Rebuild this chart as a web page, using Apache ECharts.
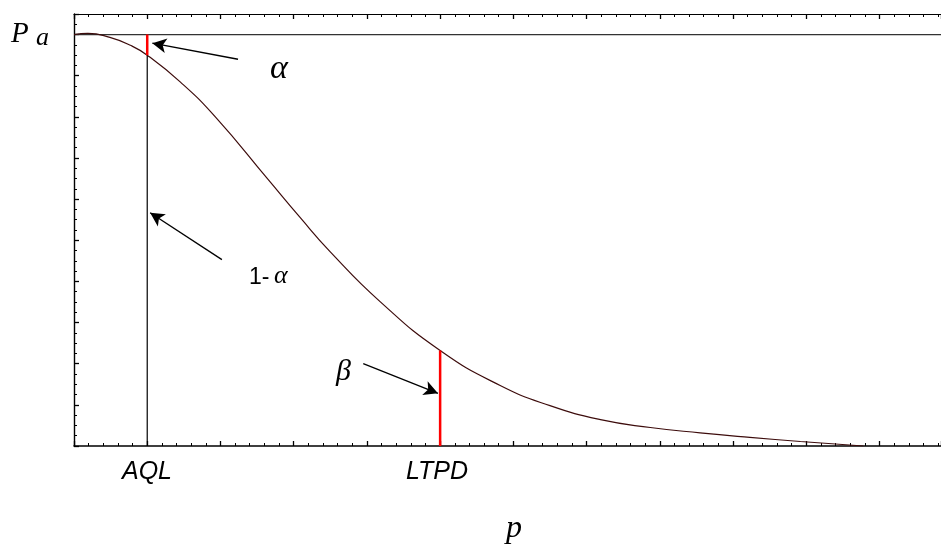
<!DOCTYPE html>
<html>
<head>
<meta charset="utf-8">
<title>OC curve</title>
<script src="https://cdn.jsdelivr.net/npm/echarts@6/dist/echarts.min.js"></script>
<style>
  html, body { margin: 0; padding: 0; background: #fff; }
  #chart { width: 941px; height: 544px; }
</style>
</head>
<body>
<div id="chart"></div>
<script>
// OC curve, p measured in axis steps (AQL = 1, LTPD = 5)
var curveP  = [0, 0.19, 0.49, 0.77, 1, 1.45, 1.93, 2.65, 3.09, 3.5, 4.18, 5, 5.82, 6.5, 7.19, 7.87, 8.55, 9.23, 9.92, 10.78];
var curvePa = [1.0, 1.003, 0.993, 0.974, 0.95, 0.885, 0.8, 0.648, 0.555, 0.472, 0.351, 0.232, 0.147, 0.098, 0.064, 0.045, 0.032, 0.021, 0.011, 0.0];

var aql = 1;
var ltpd = 5;
var paAtAql = 0.95;
var paAtLtpd = 0.232;
var topLevel = 1;

var xMax = 11.84;
var yMax = 1.05;

// arrows: [tail p, tail Pa, tip p, tip Pa]
var arrowAlpha = [2.24, 0.94, 1.07, 0.979];
var arrowOneMinus = [2.02, 0.453, 1.04, 0.567];
var arrowBeta = [3.95, 0.2, 4.97, 0.128];

var curveData = [];
for (var i = 0; i < curveP.length; i++) {
    curveData.push([curveP[i], curvePa[i]]);
}

var serif = 'Liberation Serif';
var sans = 'Liberation Sans';

function xAxisBase(pos) {
    return {
        type: 'value',
        position: pos,
        min: 0,
        max: xMax,
        interval: 1,
        axisLine: { show: true, onZero: false, lineStyle: { color: '#000', width: pos == 'bottom' ? 1.6 : 1.2 } },
        axisTick: { show: true, inside: true, length: 5, lineStyle: { color: '#000', width: 1.3 } },
        minorTick: { show: true, splitNumber: 5, length: 3, lineStyle: { color: '#000', width: 1 } },
        axisLabel: { show: false },
        splitLine: { show: false }
    };
}

function arrow(a) {
    return [{ coord: [a[0], a[1]] }, { coord: [a[2], a[3]] }];
}

// plain text pieces are put on the page as title components
function label(txt, x, y, size, family, italic) {
    return {
        text: txt,
        left: x,
        top: y,
        padding: 0,
        textStyle: {
            fontSize: size,
            fontFamily: family,
            fontStyle: italic ? 'italic' : 'normal',
            fontWeight: 'normal',
            color: '#000'
        }
    };
}

var myChart = echarts.init(document.getElementById('chart'));

var option = {
    animation: false,
    title: [
        label('P', 11, 20, 29, serif, true),
        label('a', 36, 25, 26, serif, true),
        label('α', 270, 52, 34, serif, true),
        label('1-', 249, 266, 23, sans, false),
        label('α', 274, 263, 26, serif, true),
        label('β', 336, 357, 30, serif, true),
        label('AQL', 122, 460, 25, sans, true),
        label('LTPD', 406, 460, 25, sans, true),
        label('p', 506, 513, 32, serif, true)
    ],
    grid: { left: 74, right: 0, top: 14, bottom: 98 },
    xAxis: [xAxisBase('bottom'), xAxisBase('top')],
    yAxis: {
        type: 'value',
        min: 0,
        max: yMax,
        interval: 0.1,
        axisLine: { show: true, onZero: false, lineStyle: { color: '#000', width: 1.4 } },
        axisTick: { show: true, inside: true, length: 5, lineStyle: { color: '#000', width: 1.3 } },
        minorTick: { show: true, splitNumber: 4, length: 3, lineStyle: { color: '#000', width: 1 } },
        axisLabel: { show: false },
        splitLine: { show: false }
    },
    series: [
        {
            name: 'top',
            type: 'line',
            data: [[0, topLevel], [xMax, topLevel]],
            showSymbol: false,
            lineStyle: { color: '#333', width: 1.2 }
        },
        {
            name: 'OC',
            type: 'line',
            data: curveData,
            smooth: 0.5,
            showSymbol: false,
            lineStyle: { color: '#3d0c0c', width: 1.2 }
        },
        {
            name: '1-alpha',
            type: 'line',
            data: [[aql, 0], [aql, paAtAql]],
            showSymbol: false,
            lineStyle: { color: '#000', width: 1.2 }
        },
        {
            name: 'alpha',
            type: 'line',
            data: [[aql, paAtAql], [aql, topLevel]],
            showSymbol: false,
            lineStyle: { color: '#ff0000', width: 2.5 }
        },
        {
            name: 'beta',
            type: 'line',
            data: [[ltpd, 0], [ltpd, paAtLtpd]],
            showSymbol: false,
            lineStyle: { color: '#ff0000', width: 2.5 },
            markLine: {
                silent: true,
                symbol: ['none', 'arrow'],
                symbolSize: [11, 14],
                label: { show: false },
                lineStyle: { color: '#000', width: 1.3, type: 'solid' },
                data: [arrow(arrowAlpha), arrow(arrowOneMinus), arrow(arrowBeta)]
            }
        }
    ]
};

myChart.setOption(option, true);
</script>
</body>
</html>
